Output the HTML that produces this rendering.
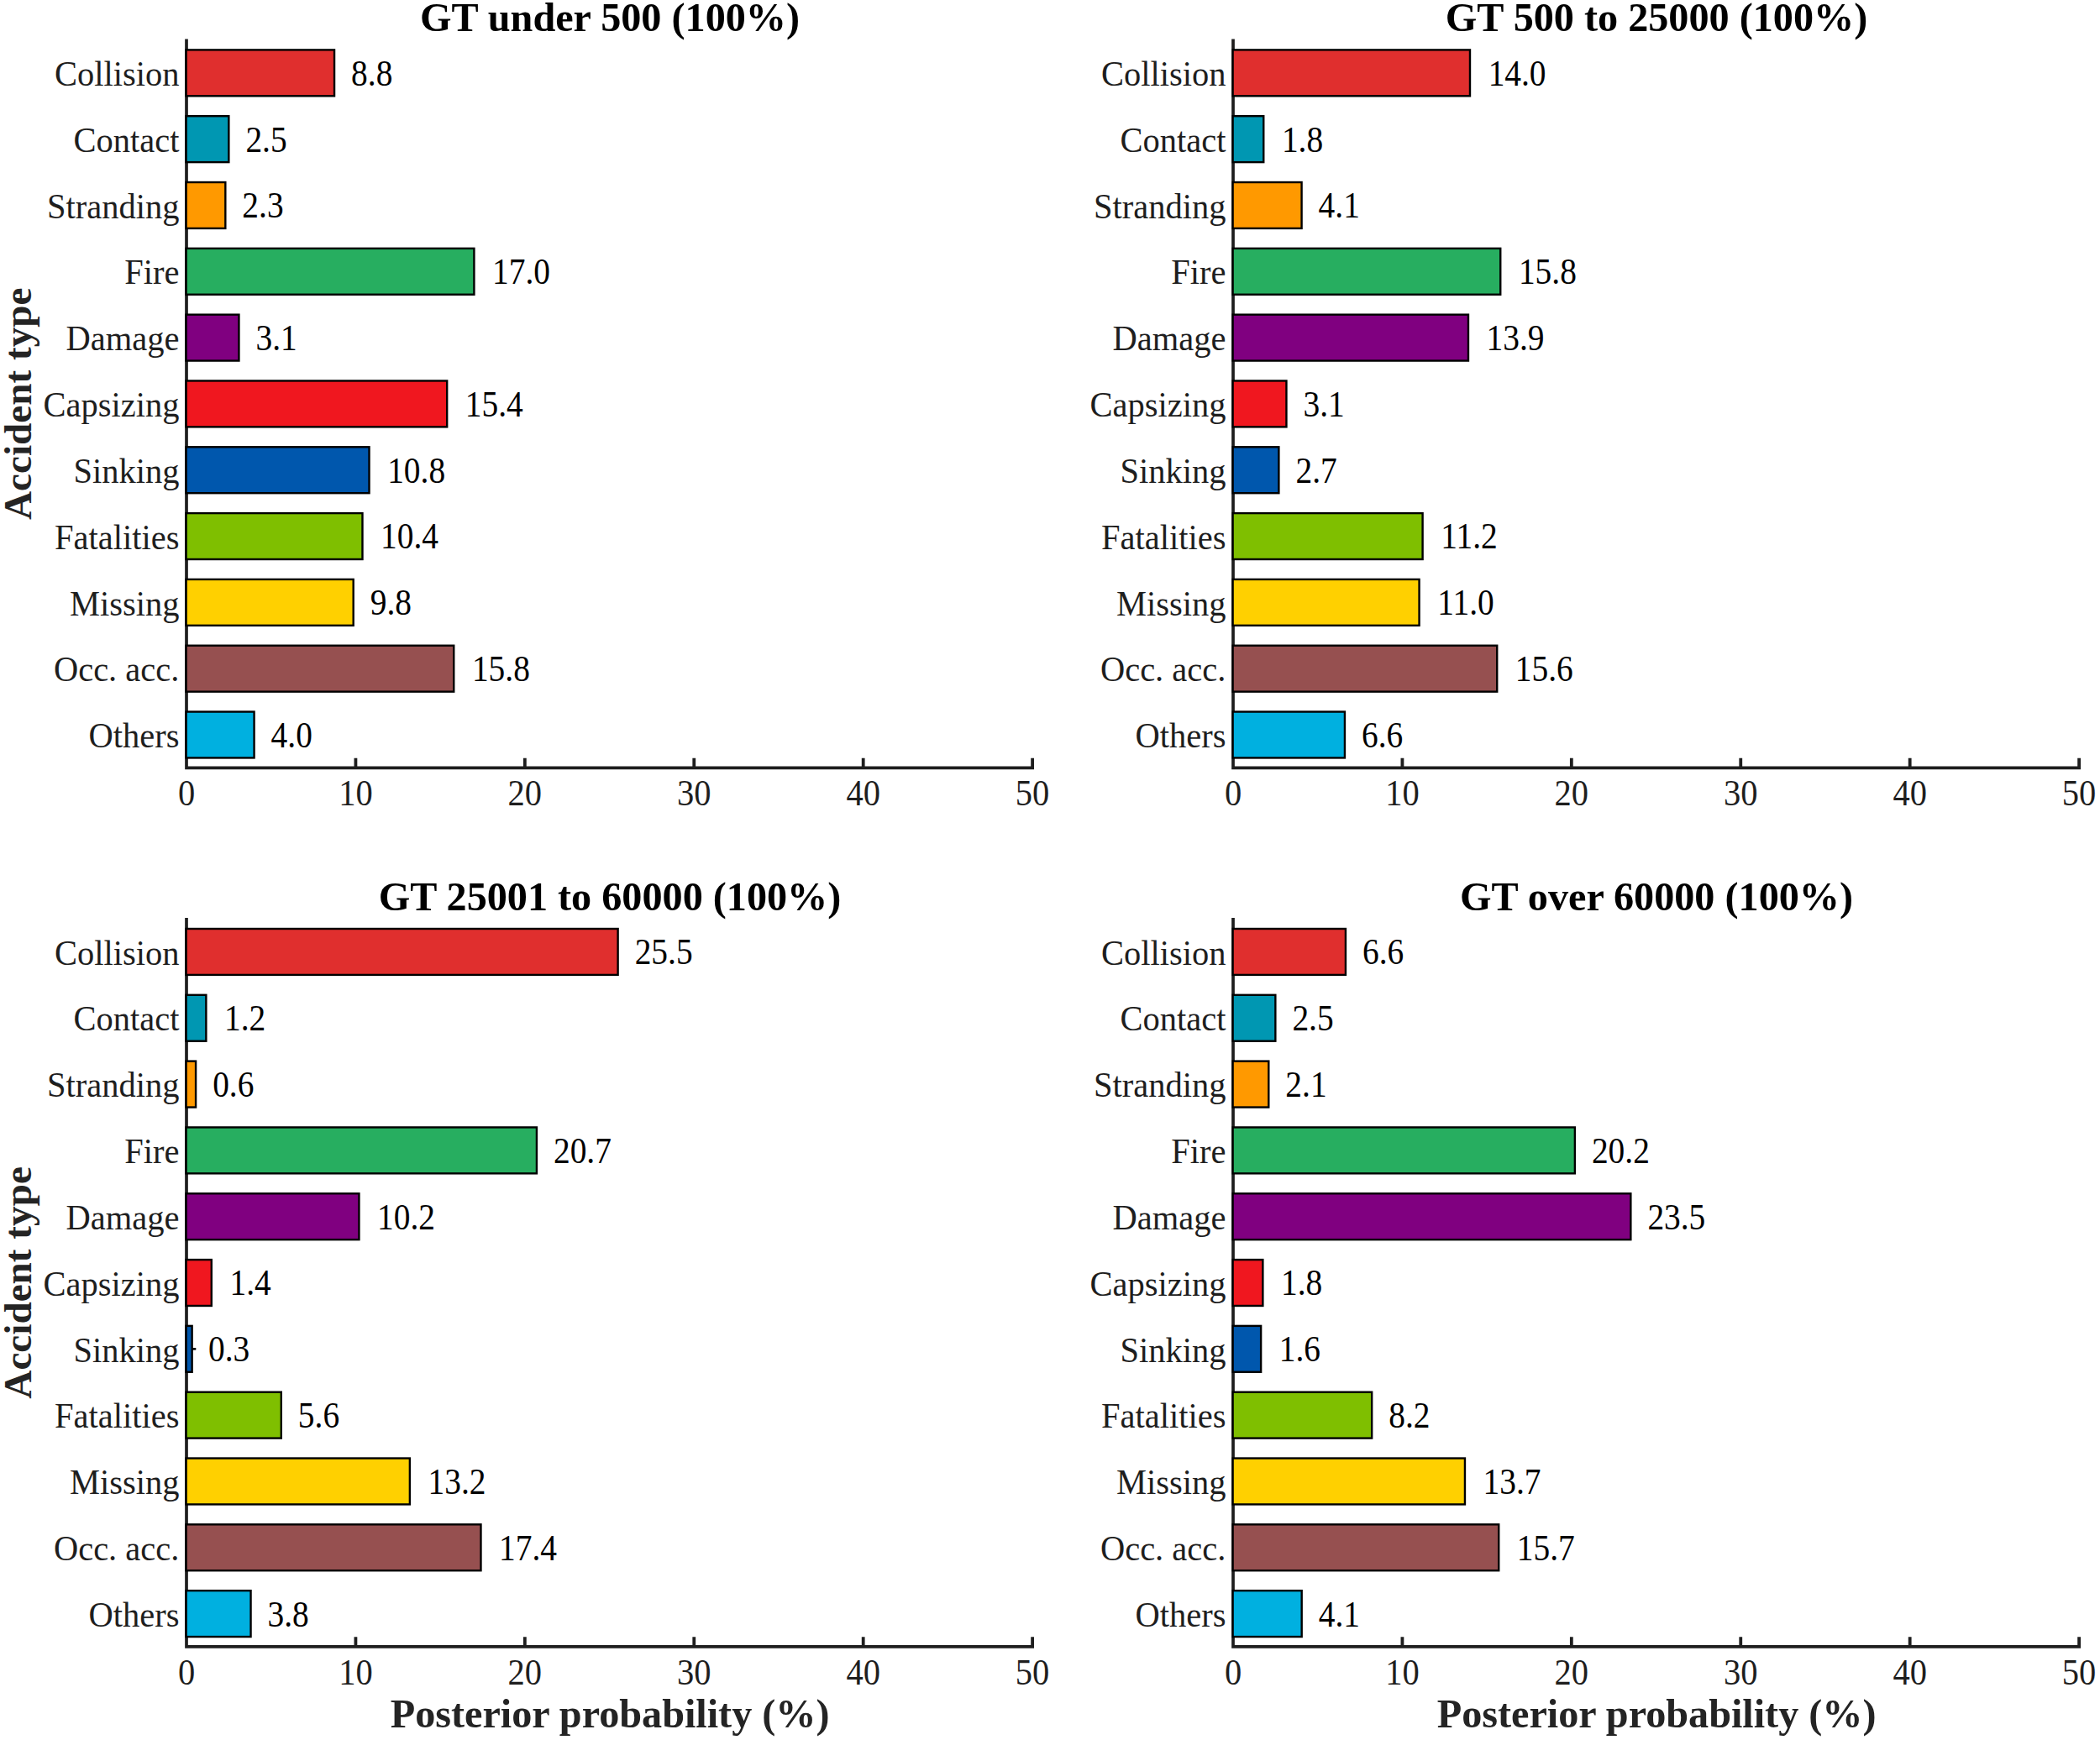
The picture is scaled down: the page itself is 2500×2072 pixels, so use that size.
<!DOCTYPE html>
<html lang="en"><head><meta charset="utf-8"><title>Posterior probability of accident type by GT</title>
<style>html,body{margin:0;padding:0;background:#fff}body{width:2500px;height:2072px;overflow:hidden}svg{display:block}text{font-family:"Liberation Serif",serif}.t{font-size:40.5px;fill:#1e1e1e}.v{font-size:39.4px;fill:#000}.b{font-size:48.2px;font-weight:bold}.bar{stroke:#000;stroke-width:2.4}.ax{stroke:#1e1e1e;fill:none}</style></head><body>
<svg width="2500" height="2072" viewBox="0 0 2500 2072">
<rect width="2500" height="2072" fill="#fff"/>
<g>
<path class="ax" stroke-width="3.7" d="M222.00 46.50V914.30H1231.00"/>
<path class="ax" stroke-width="3.8" d="M423.42 914.30v-11.6M624.84 914.30v-11.6M826.26 914.30v-11.6M1027.68 914.30v-11.6M1229.10 914.30v-11.6"/>
<rect class="bar" x="221.60" y="59.40" width="176.45" height="54.90" fill="#E02F2E"/>
<rect class="bar" x="221.60" y="138.22" width="50.75" height="54.90" fill="#0097B2"/>
<rect class="bar" x="221.60" y="217.03" width="46.73" height="54.90" fill="#FF9900"/>
<rect class="bar" x="221.60" y="295.84" width="342.81" height="54.90" fill="#27AE60"/>
<rect class="bar" x="221.60" y="374.66" width="62.84" height="54.90" fill="#800080"/>
<rect class="bar" x="221.60" y="453.47" width="310.59" height="54.90" fill="#F0171F"/>
<rect class="bar" x="221.60" y="532.29" width="217.93" height="54.90" fill="#0057AD"/>
<rect class="bar" x="221.60" y="611.10" width="209.88" height="54.90" fill="#7FBF00"/>
<rect class="bar" x="221.60" y="689.92" width="199.09" height="54.90" fill="#FFD000"/>
<rect class="bar" x="221.60" y="768.74" width="318.64" height="54.90" fill="#965050"/>
<rect class="bar" x="221.60" y="847.55" width="80.97" height="54.90" fill="#00B0E0"/>
<text class="t" transform="translate(213.40 102.05) scale(1 1.045)" text-anchor="end">Collision</text>
<text class="v" transform="translate(418.09 101.75) scale(1 1.100)">8.8</text>
<text class="t" transform="translate(213.40 180.86) scale(1 1.045)" text-anchor="end">Contact</text>
<text class="v" transform="translate(292.40 180.56) scale(1 1.100)">2.5</text>
<text class="t" transform="translate(213.40 259.68) scale(1 1.045)" text-anchor="end">Stranding</text>
<text class="v" transform="translate(288.37 259.38) scale(1 1.100)">2.3</text>
<text class="t" transform="translate(213.40 338.49) scale(1 1.045)" text-anchor="end">Fire</text>
<text class="v" transform="translate(586.06 338.19) scale(1 1.100)">17.0</text>
<text class="t" transform="translate(213.40 417.31) scale(1 1.045)" text-anchor="end">Damage</text>
<text class="v" transform="translate(304.48 417.01) scale(1 1.100)">3.1</text>
<text class="t" transform="translate(213.40 496.12) scale(1 1.045)" text-anchor="end">Capsizing</text>
<text class="v" transform="translate(553.83 495.82) scale(1 1.100)">15.4</text>
<text class="t" transform="translate(213.40 574.94) scale(1 1.045)" text-anchor="end">Sinking</text>
<text class="v" transform="translate(461.18 574.64) scale(1 1.100)">10.8</text>
<text class="t" transform="translate(213.40 653.75) scale(1 1.045)" text-anchor="end">Fatalities</text>
<text class="v" transform="translate(453.12 653.45) scale(1 1.100)">10.4</text>
<text class="t" transform="translate(213.40 732.57) scale(1 1.045)" text-anchor="end">Missing</text>
<text class="v" transform="translate(440.73 732.27) scale(1 1.100)">9.8</text>
<text class="t" transform="translate(213.40 811.39) scale(1 1.045)" text-anchor="end">Occ. acc.</text>
<text class="v" transform="translate(561.89 811.09) scale(1 1.100)">15.8</text>
<text class="t" transform="translate(213.40 890.20) scale(1 1.045)" text-anchor="end">Others</text>
<text class="v" transform="translate(322.61 889.90) scale(1 1.100)">4.0</text>
<text class="t" transform="translate(222.00 959.00) scale(1 1.070)" text-anchor="middle">0</text>
<text class="t" transform="translate(423.42 959.00) scale(1 1.070)" text-anchor="middle">10</text>
<text class="t" transform="translate(624.84 959.00) scale(1 1.070)" text-anchor="middle">20</text>
<text class="t" transform="translate(826.26 959.00) scale(1 1.070)" text-anchor="middle">30</text>
<text class="t" transform="translate(1027.68 959.00) scale(1 1.070)" text-anchor="middle">40</text>
<text class="t" transform="translate(1229.10 959.00) scale(1 1.070)" text-anchor="middle">50</text>
<text class="b" x="726.05" y="37.20" text-anchor="middle" fill="#000">GT under 500 (100%)</text>
<text class="b" style="font-size:47.2px" transform="translate(37.4 480.80) rotate(-90)" text-anchor="middle" fill="#242424">Accident type</text>
</g>
<g>
<path class="ax" stroke-width="3.7" d="M1468.00 46.50V914.30H2477.00"/>
<path class="ax" stroke-width="3.8" d="M1669.42 914.30v-11.6M1870.84 914.30v-11.6M2072.26 914.30v-11.6M2273.68 914.30v-11.6M2475.10 914.30v-11.6"/>
<rect class="bar" x="1467.60" y="59.40" width="282.39" height="54.90" fill="#E02F2E"/>
<rect class="bar" x="1467.60" y="138.22" width="36.66" height="54.90" fill="#0097B2"/>
<rect class="bar" x="1467.60" y="217.03" width="81.98" height="54.90" fill="#FF9900"/>
<rect class="bar" x="1467.60" y="295.84" width="318.64" height="54.90" fill="#27AE60"/>
<rect class="bar" x="1467.60" y="374.66" width="280.37" height="54.90" fill="#800080"/>
<rect class="bar" x="1467.60" y="453.47" width="63.84" height="54.90" fill="#F0171F"/>
<rect class="bar" x="1467.60" y="532.29" width="54.78" height="54.90" fill="#0057AD"/>
<rect class="bar" x="1467.60" y="611.10" width="225.99" height="54.90" fill="#7FBF00"/>
<rect class="bar" x="1467.60" y="689.92" width="221.96" height="54.90" fill="#FFD000"/>
<rect class="bar" x="1467.60" y="768.74" width="314.62" height="54.90" fill="#965050"/>
<rect class="bar" x="1467.60" y="847.55" width="133.34" height="54.90" fill="#00B0E0"/>
<text class="t" transform="translate(1459.40 102.05) scale(1 1.045)" text-anchor="end">Collision</text>
<text class="v" transform="translate(1771.63 101.75) scale(1 1.100)">14.0</text>
<text class="t" transform="translate(1459.40 180.86) scale(1 1.045)" text-anchor="end">Contact</text>
<text class="v" transform="translate(1525.90 180.56) scale(1 1.100)">1.8</text>
<text class="t" transform="translate(1459.40 259.68) scale(1 1.045)" text-anchor="end">Stranding</text>
<text class="v" transform="translate(1569.62 259.38) scale(1 1.100)">4.1</text>
<text class="t" transform="translate(1459.40 338.49) scale(1 1.045)" text-anchor="end">Fire</text>
<text class="v" transform="translate(1807.89 338.19) scale(1 1.100)">15.8</text>
<text class="t" transform="translate(1459.40 417.31) scale(1 1.045)" text-anchor="end">Damage</text>
<text class="v" transform="translate(1769.62 417.01) scale(1 1.100)">13.9</text>
<text class="t" transform="translate(1459.40 496.12) scale(1 1.045)" text-anchor="end">Capsizing</text>
<text class="v" transform="translate(1551.48 495.82) scale(1 1.100)">3.1</text>
<text class="t" transform="translate(1459.40 574.94) scale(1 1.045)" text-anchor="end">Sinking</text>
<text class="v" transform="translate(1542.43 574.64) scale(1 1.100)">2.7</text>
<text class="t" transform="translate(1459.40 653.75) scale(1 1.045)" text-anchor="end">Fatalities</text>
<text class="v" transform="translate(1715.23 653.45) scale(1 1.100)">11.2</text>
<text class="t" transform="translate(1459.40 732.57) scale(1 1.045)" text-anchor="end">Missing</text>
<text class="v" transform="translate(1711.20 732.27) scale(1 1.100)">11.0</text>
<text class="t" transform="translate(1459.40 811.39) scale(1 1.045)" text-anchor="end">Occ. acc.</text>
<text class="v" transform="translate(1803.86 811.09) scale(1 1.100)">15.6</text>
<text class="t" transform="translate(1459.40 890.20) scale(1 1.045)" text-anchor="end">Others</text>
<text class="v" transform="translate(1620.98 889.90) scale(1 1.100)">6.6</text>
<text class="t" transform="translate(1468.00 959.00) scale(1 1.070)" text-anchor="middle">0</text>
<text class="t" transform="translate(1669.42 959.00) scale(1 1.070)" text-anchor="middle">10</text>
<text class="t" transform="translate(1870.84 959.00) scale(1 1.070)" text-anchor="middle">20</text>
<text class="t" transform="translate(2072.26 959.00) scale(1 1.070)" text-anchor="middle">30</text>
<text class="t" transform="translate(2273.68 959.00) scale(1 1.070)" text-anchor="middle">40</text>
<text class="t" transform="translate(2475.10 959.00) scale(1 1.070)" text-anchor="middle">50</text>
<text class="b" x="1972.05" y="37.20" text-anchor="middle" fill="#000">GT 500 to 25000 (100%)</text>
</g>
<g>
<path class="ax" stroke-width="3.7" d="M222.00 1093.10V1960.90H1231.00"/>
<path class="ax" stroke-width="3.8" d="M423.42 1960.90v-11.6M624.84 1960.90v-11.6M826.26 1960.90v-11.6M1027.68 1960.90v-11.6M1229.10 1960.90v-11.6"/>
<rect class="bar" x="221.60" y="1106.00" width="514.02" height="54.90" fill="#E02F2E"/>
<rect class="bar" x="221.60" y="1184.81" width="23.77" height="54.90" fill="#0097B2"/>
<rect class="bar" x="221.60" y="1263.63" width="11.49" height="54.90" fill="#FF9900"/>
<rect class="bar" x="221.60" y="1342.44" width="417.34" height="54.90" fill="#27AE60"/>
<rect class="bar" x="221.60" y="1421.26" width="205.85" height="54.90" fill="#800080"/>
<rect class="bar" x="221.60" y="1500.07" width="30.20" height="54.90" fill="#F0171F"/>
<path d="M228.04 1606.34H233.30" stroke="#000" stroke-width="2.6" fill="none"/>
<rect class="bar" x="221.60" y="1578.89" width="7.04" height="54.90" fill="#0057AD"/>
<rect class="bar" x="221.60" y="1657.70" width="113.20" height="54.90" fill="#7FBF00"/>
<rect class="bar" x="221.60" y="1736.52" width="266.27" height="54.90" fill="#FFD000"/>
<rect class="bar" x="221.60" y="1815.33" width="350.87" height="54.90" fill="#965050"/>
<rect class="bar" x="221.60" y="1894.15" width="76.94" height="54.90" fill="#00B0E0"/>
<text class="t" transform="translate(213.40 1148.65) scale(1 1.045)" text-anchor="end">Collision</text>
<text class="v" transform="translate(755.66 1148.35) scale(1 1.100)">25.5</text>
<text class="t" transform="translate(213.40 1227.46) scale(1 1.045)" text-anchor="end">Contact</text>
<text class="v" transform="translate(267.01 1227.16) scale(1 1.100)">1.2</text>
<text class="t" transform="translate(213.40 1306.28) scale(1 1.045)" text-anchor="end">Stranding</text>
<text class="v" transform="translate(253.13 1305.98) scale(1 1.100)">0.6</text>
<text class="t" transform="translate(213.40 1385.10) scale(1 1.045)" text-anchor="end">Fire</text>
<text class="v" transform="translate(658.98 1384.80) scale(1 1.100)">20.7</text>
<text class="t" transform="translate(213.40 1463.91) scale(1 1.045)" text-anchor="end">Damage</text>
<text class="v" transform="translate(449.09 1463.61) scale(1 1.100)">10.2</text>
<text class="t" transform="translate(213.40 1542.72) scale(1 1.045)" text-anchor="end">Capsizing</text>
<text class="v" transform="translate(273.44 1542.42) scale(1 1.100)">1.4</text>
<text class="t" transform="translate(213.40 1621.54) scale(1 1.045)" text-anchor="end">Sinking</text>
<text class="v" transform="translate(248.08 1621.24) scale(1 1.100)">0.3</text>
<text class="t" transform="translate(213.40 1700.35) scale(1 1.045)" text-anchor="end">Fatalities</text>
<text class="v" transform="translate(354.84 1700.05) scale(1 1.100)">5.6</text>
<text class="t" transform="translate(213.40 1779.17) scale(1 1.045)" text-anchor="end">Missing</text>
<text class="v" transform="translate(509.52 1778.87) scale(1 1.100)">13.2</text>
<text class="t" transform="translate(213.40 1857.98) scale(1 1.045)" text-anchor="end">Occ. acc.</text>
<text class="v" transform="translate(594.11 1857.68) scale(1 1.100)">17.4</text>
<text class="t" transform="translate(213.40 1936.80) scale(1 1.045)" text-anchor="end">Others</text>
<text class="v" transform="translate(318.58 1936.50) scale(1 1.100)">3.8</text>
<text class="t" transform="translate(222.00 2005.60) scale(1 1.070)" text-anchor="middle">0</text>
<text class="t" transform="translate(423.42 2005.60) scale(1 1.070)" text-anchor="middle">10</text>
<text class="t" transform="translate(624.84 2005.60) scale(1 1.070)" text-anchor="middle">20</text>
<text class="t" transform="translate(826.26 2005.60) scale(1 1.070)" text-anchor="middle">30</text>
<text class="t" transform="translate(1027.68 2005.60) scale(1 1.070)" text-anchor="middle">40</text>
<text class="t" transform="translate(1229.10 2005.60) scale(1 1.070)" text-anchor="middle">50</text>
<text class="b" x="726.05" y="1083.80" text-anchor="middle" fill="#000">GT 25001 to 60000 (100%)</text>
<text class="b" x="726.15" y="2057.20" text-anchor="middle" fill="#242424">Posterior probability (%)</text>
<text class="b" style="font-size:47.2px" transform="translate(37.4 1527.40) rotate(-90)" text-anchor="middle" fill="#242424">Accident type</text>
</g>
<g>
<path class="ax" stroke-width="3.7" d="M1468.00 1093.10V1960.90H2477.00"/>
<path class="ax" stroke-width="3.8" d="M1669.42 1960.90v-11.6M1870.84 1960.90v-11.6M2072.26 1960.90v-11.6M2273.68 1960.90v-11.6M2475.10 1960.90v-11.6"/>
<rect class="bar" x="1467.60" y="1106.00" width="134.34" height="54.90" fill="#E02F2E"/>
<rect class="bar" x="1467.60" y="1184.81" width="50.75" height="54.90" fill="#0097B2"/>
<rect class="bar" x="1467.60" y="1263.63" width="42.70" height="54.90" fill="#FF9900"/>
<rect class="bar" x="1467.60" y="1342.44" width="407.27" height="54.90" fill="#27AE60"/>
<rect class="bar" x="1467.60" y="1421.26" width="473.74" height="54.90" fill="#800080"/>
<rect class="bar" x="1467.60" y="1500.07" width="35.76" height="54.90" fill="#F0171F"/>
<rect class="bar" x="1467.60" y="1578.89" width="33.53" height="54.90" fill="#0057AD"/>
<rect class="bar" x="1467.60" y="1657.70" width="165.56" height="54.90" fill="#7FBF00"/>
<rect class="bar" x="1467.60" y="1736.52" width="276.35" height="54.90" fill="#FFD000"/>
<rect class="bar" x="1467.60" y="1815.33" width="316.63" height="54.90" fill="#965050"/>
<rect class="bar" x="1467.60" y="1894.15" width="82.08" height="54.90" fill="#00B0E0"/>
<text class="t" transform="translate(1459.40 1148.65) scale(1 1.045)" text-anchor="end">Collision</text>
<text class="v" transform="translate(1621.98 1148.35) scale(1 1.100)">6.6</text>
<text class="t" transform="translate(1459.40 1227.46) scale(1 1.045)" text-anchor="end">Contact</text>
<text class="v" transform="translate(1538.40 1227.16) scale(1 1.100)">2.5</text>
<text class="t" transform="translate(1459.40 1306.28) scale(1 1.045)" text-anchor="end">Stranding</text>
<text class="v" transform="translate(1530.34 1305.98) scale(1 1.100)">2.1</text>
<text class="t" transform="translate(1459.40 1385.10) scale(1 1.045)" text-anchor="end">Fire</text>
<text class="v" transform="translate(1894.91 1384.80) scale(1 1.100)">20.2</text>
<text class="t" transform="translate(1459.40 1463.91) scale(1 1.045)" text-anchor="end">Damage</text>
<text class="v" transform="translate(1961.38 1463.61) scale(1 1.100)">23.5</text>
<text class="t" transform="translate(1459.40 1542.72) scale(1 1.045)" text-anchor="end">Capsizing</text>
<text class="v" transform="translate(1525.00 1542.42) scale(1 1.100)">1.8</text>
<text class="t" transform="translate(1459.40 1621.54) scale(1 1.045)" text-anchor="end">Sinking</text>
<text class="v" transform="translate(1522.77 1621.24) scale(1 1.100)">1.6</text>
<text class="t" transform="translate(1459.40 1700.35) scale(1 1.045)" text-anchor="end">Fatalities</text>
<text class="v" transform="translate(1653.21 1700.05) scale(1 1.100)">8.2</text>
<text class="t" transform="translate(1459.40 1779.17) scale(1 1.045)" text-anchor="end">Missing</text>
<text class="v" transform="translate(1765.59 1778.87) scale(1 1.100)">13.7</text>
<text class="t" transform="translate(1459.40 1857.98) scale(1 1.045)" text-anchor="end">Occ. acc.</text>
<text class="v" transform="translate(1805.87 1857.68) scale(1 1.100)">15.7</text>
<text class="t" transform="translate(1459.40 1936.80) scale(1 1.045)" text-anchor="end">Others</text>
<text class="v" transform="translate(1569.72 1936.50) scale(1 1.100)">4.1</text>
<text class="t" transform="translate(1468.00 2005.60) scale(1 1.070)" text-anchor="middle">0</text>
<text class="t" transform="translate(1669.42 2005.60) scale(1 1.070)" text-anchor="middle">10</text>
<text class="t" transform="translate(1870.84 2005.60) scale(1 1.070)" text-anchor="middle">20</text>
<text class="t" transform="translate(2072.26 2005.60) scale(1 1.070)" text-anchor="middle">30</text>
<text class="t" transform="translate(2273.68 2005.60) scale(1 1.070)" text-anchor="middle">40</text>
<text class="t" transform="translate(2475.10 2005.60) scale(1 1.070)" text-anchor="middle">50</text>
<text class="b" x="1972.05" y="1083.80" text-anchor="middle" fill="#000">GT over 60000 (100%)</text>
<text class="b" x="1972.15" y="2057.20" text-anchor="middle" fill="#242424">Posterior probability (%)</text>
</g>
</svg></body></html>
